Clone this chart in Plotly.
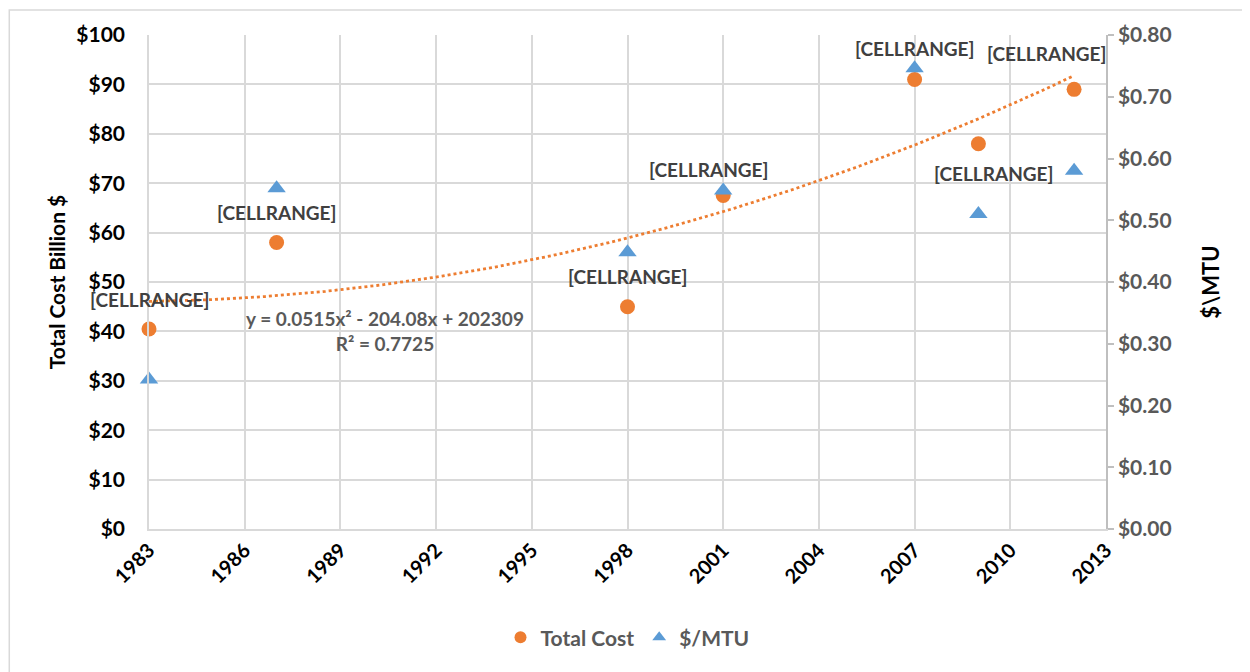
import numpy as np
import plotly.graph_objects as go

# ---- data ----
years = [1983, 1987, 1998, 2001, 2007, 2009, 2012]
total_cost = [40.5, 58, 45, 67.5, 91, 78, 89]          # billion $
cost_per_mtu = [0.242, 0.552, 0.448, 0.548, 0.746, 0.51, 0.58]
label_texts = ["[CELLRANGE]"] * 7
x_ticks = list(range(1983, 2014, 3))
left_ticks = list(range(0, 101, 10))
right_ticks = [i / 100 for i in range(0, 81, 10)]

# label offsets (px) relative to Total Cost points
label_dx = [0, 0, 0, -15, 0, 15, -28]
label_dy = [29, 30, 30, 26, 31, -30, 36]

ORANGE = "#ED7D31"
BLUE = "#5B9BD5"
GRID = "#D9D9D9"
FONT = "Lato"

# quadratic trendline fitted to Total Cost
coef = np.polyfit(years, total_cost, 2)
tx = np.linspace(min(years), max(years), 200)
ty = np.polyval(coef, tx)

fig = go.Figure()
fig.add_trace(go.Scatter(x=tx, y=ty, mode="lines",
                         line=dict(color=ORANGE, width=2.8, dash="dot"),
                         showlegend=False, hoverinfo="skip", cliponaxis=False))
fig.add_trace(go.Scatter(x=years, y=total_cost, mode="markers", name="Total Cost",
                         cliponaxis=False,
                         marker=dict(symbol="circle", size=15, color=ORANGE)))
fig.add_trace(go.Scatter(x=years, y=cost_per_mtu, mode="markers", name="$/MTU",
                         yaxis="y2", cliponaxis=False,
                         marker=dict(symbol="triangle-up", size=16, color=BLUE)))

for yr, v, t, dx, dy in zip(years, total_cost, label_texts, label_dx, label_dy):
    fig.add_annotation(x=yr, y=v, text=t, showarrow=False, xshift=dx, yshift=dy,
                       font=dict(family=FONT, size=19, color="#404040", weight="bold"))

fig.add_annotation(x=1990.4, y=40.0, xref="x", yref="y", showarrow=False,
                   text="y = 0.0515x² - 204.08x + 202309<br>R² = 0.7725",
                   align="center",
                   font=dict(family=FONT, size=19, color="#595959", weight="bold"))

# outer border
fig.add_shape(type="rect", xref="paper", yref="paper",
              x0=-0.146, x1=1.2, y0=-0.35, y1=1.0506,
              line=dict(color=GRID, width=1.5), fillcolor="rgba(0,0,0,0)", layer="below")

fig.update_layout(
    width=1250, height=672,
    margin=dict(l=141, r=152, t=27, b=151, autoexpand=False),
    paper_bgcolor="white", plot_bgcolor="white",
    font=dict(family=FONT, color="#000000"),
    xaxis=dict(range=[1983, 2013], tickvals=x_ticks, ticktext=[str(v) for v in x_ticks],
               tickangle=-45, showgrid=True, gridcolor=GRID, gridwidth=1.5,
               showline=True, linecolor=GRID, linewidth=1.5, zeroline=False,
               automargin=False,
               tickfont=dict(family=FONT, size=20, color="#000000", weight="bold")),
    yaxis=dict(range=[0, 100], tickvals=left_ticks,
               ticktext=[f"${v}" for v in left_ticks],
               showgrid=True, gridcolor=GRID, gridwidth=1.5, zeroline=False,
               showline=True, linecolor=GRID, linewidth=1.5,
               ticklabelstandoff=18, automargin=False,
               tickfont=dict(family=FONT, size=21, color="#000000", weight="bold"),
               title=dict(text="Total Cost Billion $", standoff=5,
                          font=dict(family=FONT, size=21, color="#000000", weight="bold"))),
    yaxis2=dict(range=[0, 0.8], overlaying="y", side="right", tickvals=right_ticks,
                ticktext=[f"${v:.2f}" for v in right_ticks],
                showgrid=False, zeroline=False,
                showline=True, linecolor="#BFBFBF", linewidth=1.5,
                ticks="outside", ticklen=6, tickcolor="#BFBFBF", tickwidth=1.5,
                automargin=False,
                tickfont=dict(family=FONT, size=21, color="#595959", weight="bold"),
                title=dict(text="$\\MTU", standoff=33,
                           font=dict(family=FONT, size=22, color="#000000", weight="bold"))),
    legend=dict(orientation="h", x=0.5, xanchor="center", y=-0.22, yanchor="middle",
                font=dict(family=FONT, size=21, color="#595959", weight="bold"),
                itemsizing="constant"),
)

fig.write_html("out.html")
